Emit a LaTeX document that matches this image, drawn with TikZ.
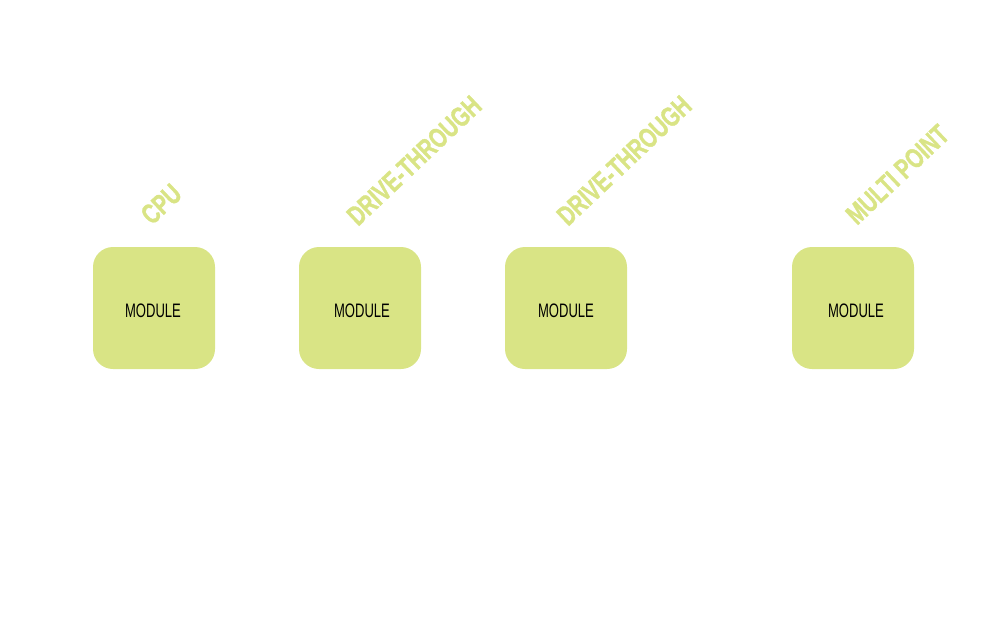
\documentclass[tikz,border=0pt]{standalone}
\usepackage{fontspec}
\setmainfont{Liberation Sans}
\newfontfamily\modfont[FakeStretch=0.67]{Liberation Sans}
\newfontfamily\labfont[UprightFont={* Bold},FakeStretch=0.73,FakeBold=1.2]{Liberation Sans}
\definecolor{lime}{HTML}{D9E485}
\newcommand{\modtext}[1]{\makebox[0pt]{\hspace*{#1}\raisebox{-9pt}[0pt][0pt]{MODULE}}}
\begin{document}
\begin{tikzpicture}[x=1pt,y=-1pt,
  modbox/.style={fill=lime,draw=none,rounded corners=20pt,minimum width=122pt,minimum height=122pt,inner sep=0pt,font=\modfont\fontsize{19.5}{19.5}\selectfont,text=black},
  toplabel/.style={rotate=43.5,anchor=base west,inner sep=0pt,text=lime,font=\labfont\fontsize{28}{28}\selectfont}]
\useasboundingbox (0,0) rectangle (1000,640);
\node[modbox] (m1) at (154,308) {\modtext{-2pt}};
\node[modbox] (m2) at (360,308) {\modtext{4pt}};
\node[modbox] (m3) at (566,308) {\modtext{0pt}};
\node[modbox] (m4) at (853,308) {\modtext{6pt}};
\node[toplabel] (l1) at (152,226) {CPU};
\node[toplabel] (l2) at (358,227) {DRIVE-THROUGH};
\node[toplabel] (l3) at (568,227) {DRIVE-THROUGH};
\node[toplabel] (l4) at (857,226) {MULTI POINT};
\end{tikzpicture}
\end{document}
